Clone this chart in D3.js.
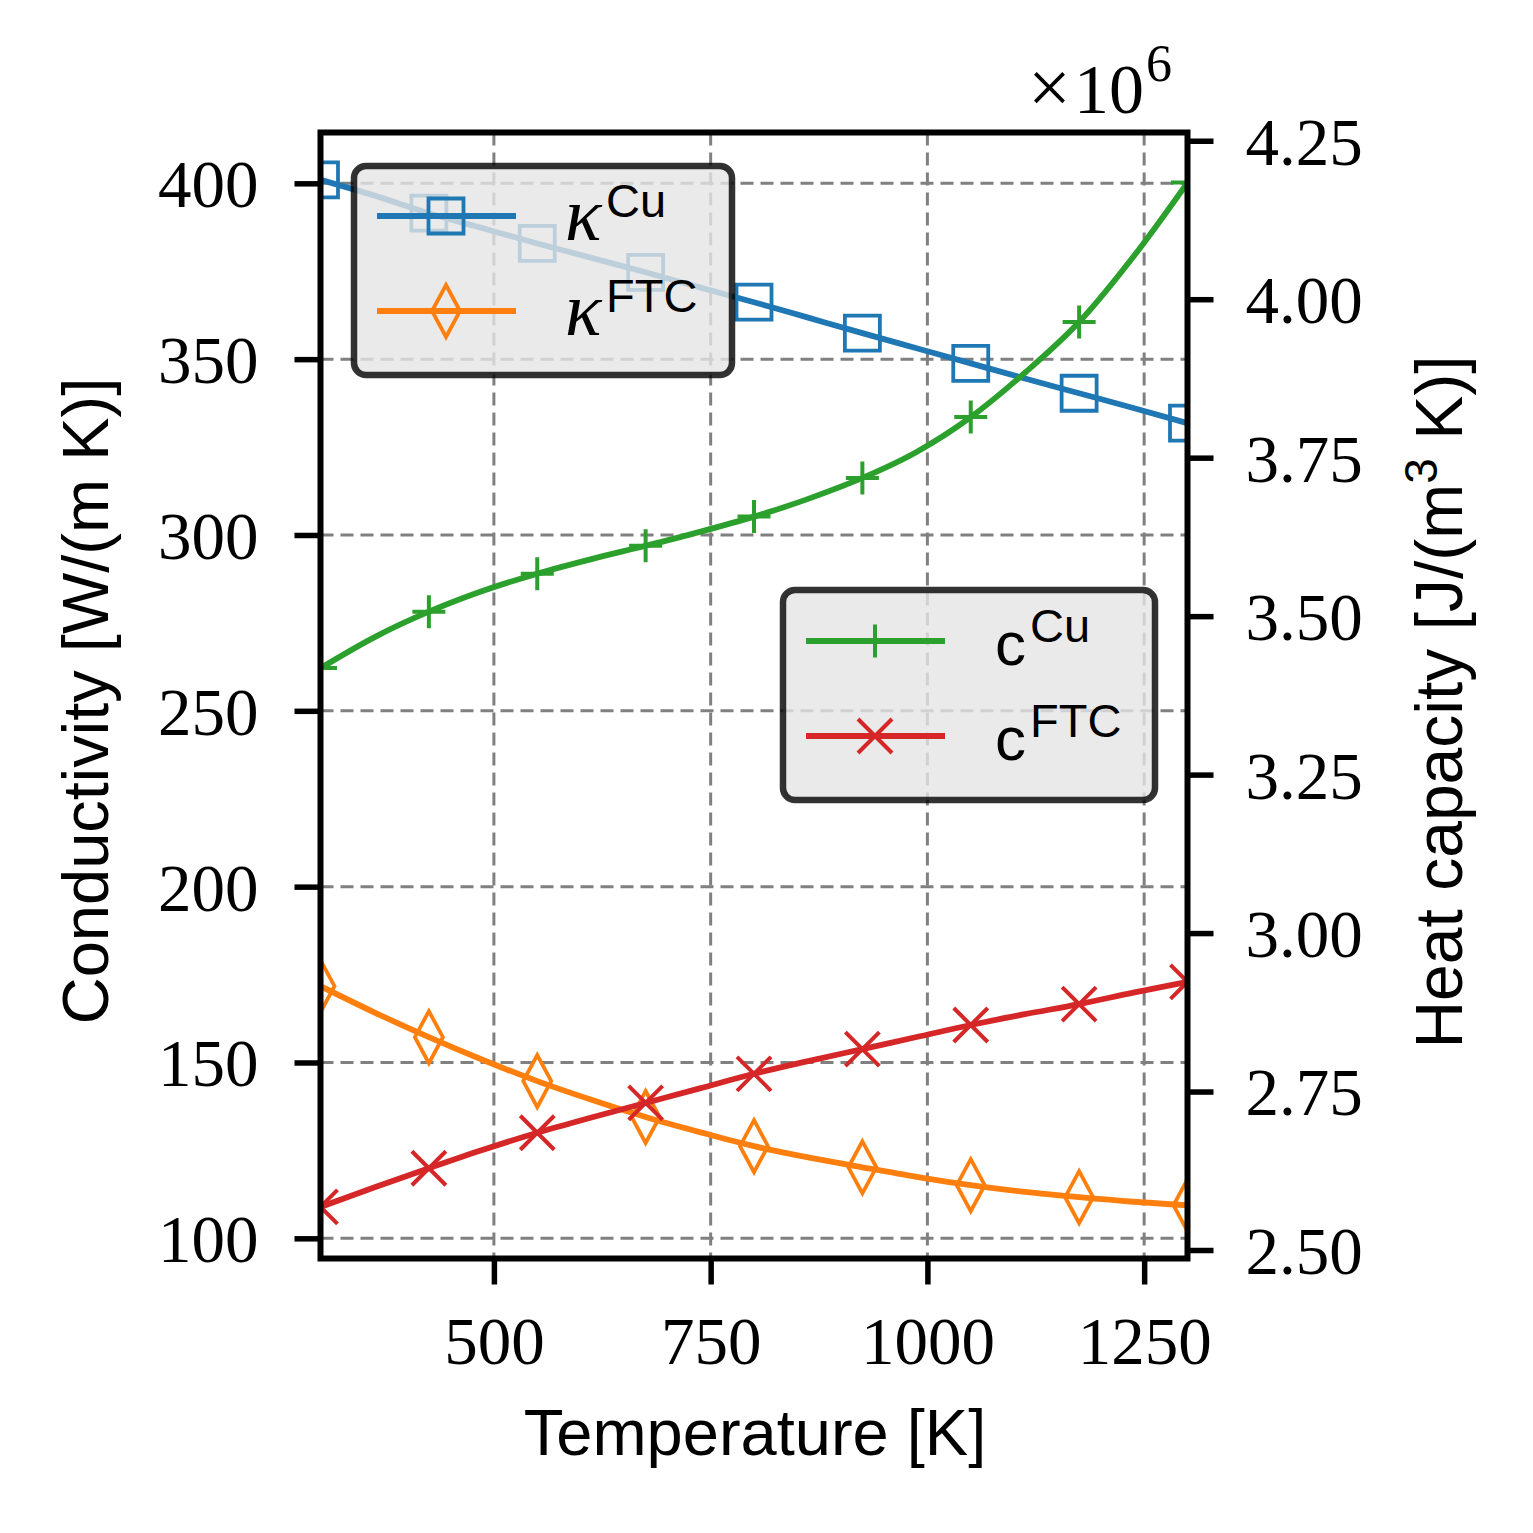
<!DOCTYPE html>
<html><head><meta charset="utf-8">
<script src="https://cdn.jsdelivr.net/npm/d3@7"></script>
<style>body{margin:0;background:#fff}</style></head>
<body><svg id="c" width="1533" height="1533"></svg>
<script>
// ---- data ----
const temperature = [300, 362.5, 425, 487.5, 550, 612.5, 675, 737.5, 800, 862.5, 925, 987.5, 1050, 1112.5, 1175, 1237.5, 1300];
const kappaCu  = [401.0, 396.5, 391.5, 387.2, 382.9, 378.8, 374.7, 370.4, 366.2, 361.8, 357.4, 353.1, 348.8, 344.5, 340.3, 336.1, 331.8];
const kappaFTC = [171.7, 164.2, 157.2, 150.7, 144.7, 139.4, 134.5, 130.2, 126.2, 123.0, 120.2, 117.5, 115.1, 113.2, 111.7, 110.4, 109.4];
const cCu  = [3.418e6, 3.467e6, 3.507e6, 3.540e6, 3.567e6, 3.590e6, 3.611e6, 3.633e6, 3.657e6, 3.685e6, 3.718e6, 3.759e6, 3.814e6, 3.884e6, 3.964e6, 4.067e6, 4.184e6];
const cFTC = [2.568e6, 2.599e6, 2.629e6, 2.658e6, 2.685e6, 2.709e6, 2.732e6, 2.755e6, 2.778e6, 2.798e6, 2.817e6, 2.836e6, 2.855e6, 2.872e6, 2.888e6, 2.906e6, 2.923e6];
const markerEvery = 2;

const xTicks = [500, 750, 1000, 1250];
const xTickLabels = ["500", "750", "1000", "1250"];
const yLeftTicks = [100, 150, 200, 250, 300, 350, 400];
const yLeftTickLabels = ["100", "150", "200", "250", "300", "350", "400"];
const yRightTicks = [2.5e6, 2.75e6, 3.0e6, 3.25e6, 3.5e6, 3.75e6, 4.0e6, 4.25e6];
const yRightTickLabels = ["2.50", "2.75", "3.00", "3.25", "3.50", "3.75", "4.00", "4.25"];

const xLabel = "Temperature [K]";
const yLeftLabel = "Conductivity [W/(m K)]";
const yRightLabelParts = ["Heat capacity [J/(m", "3", " K)]"];
const offsetParts = ["×", "10", "6"];

const leftSeriesNames = [["κ", "Cu"], ["κ", "FTC"]];
const rightSeriesNames = [["c", "Cu"], ["c", "FTC"]];
const colors = ["#1f77b4", "#ff7f0e", "#2ca02c", "#d62728"];

// ---- layout ----
const M = {l: 320.5, r: 1187.5, t: 132.5, b: 1258.5};
const svg = d3.select("#c");
const x = d3.scaleLinear().domain([300, 1300]).range([M.l, M.r]);
const yL = d3.scaleLinear().domain([94.26, 414.45]).range([M.b, M.t]);
const yR = d3.scaleLinear().domain([2.4866e6, 4.263e6]).range([M.b, M.t]);

const serif = "'Liberation Serif', 'DejaVu Serif', serif";
const sans = "'Liberation Sans', Arial, sans-serif";

svg.append("defs").append("clipPath").attr("id", "clip")
  .append("rect").attr("x", M.l).attr("y", M.t).attr("width", M.r - M.l).attr("height", M.b - M.t);

// grid
const grid = svg.append("g").attr("stroke", "#808080").attr("stroke-width", 3).attr("stroke-dasharray", "13,7");
grid.selectAll("line.v").data(xTicks).join("line")
  .attr("x1", d => x(d)).attr("x2", d => x(d)).attr("y1", M.t).attr("y2", M.b);
grid.selectAll("line.h").data(yLeftTicks).join("line")
  .attr("y1", d => yL(d)).attr("y2", d => yL(d)).attr("x1", M.l).attr("x2", M.r);

// marker shapes
const markerPaths = {
  square: "M-17.5,-17.5H17.5V17.5H-17.5Z",
  diamond: "M0,-26L14,0L0,26L-14,0Z",
  plus: "M-16.5,0H16.5M0,-16.5V16.5",
  cross: "M-17,-17L17,17M-17,17L17,-17"
};
const series = [
  {vals: kappaCu, y: yL, color: colors[0], marker: "square", mw: 3.8},
  {vals: kappaFTC, y: yL, color: colors[1], marker: "diamond", mw: 3.8},
  {vals: cCu, y: yR, color: colors[2], marker: "plus", mw: 4},
  {vals: cFTC, y: yR, color: colors[3], marker: "cross", mw: 4}
];

const plot = svg.append("g").attr("clip-path", "url(#clip)");
series.forEach(s => {
  const pts = temperature.map((t, i) => [t, s.vals[i]]);
  const line = d3.line().x(d => x(d[0])).y(d => s.y(d[1])).curve(d3.curveMonotoneX);
  plot.append("path").attr("d", line(pts)).attr("fill", "none")
    .attr("stroke", s.color).attr("stroke-width", 5.8).attr("stroke-linejoin", "round");
  plot.selectAll(null).data(pts.filter((d, i) => i % markerEvery === 0)).join("path")
    .attr("d", markerPaths[s.marker])
    .attr("transform", d => `translate(${x(d[0])},${s.y(d[1])})`)
    .attr("fill", "none").attr("stroke", s.color).attr("stroke-width", s.mw);
});

// legends
function legend(x0, y0, w, h, items, entries, lineY, textX, isKappa) {
  const g = svg.append("g");
  g.append("rect").attr("x", x0).attr("y", y0).attr("width", w).attr("height", h)
    .attr("rx", 12).attr("fill", "#e5e5e5").attr("fill-opacity", 0.8)
    .attr("stroke", "#000").attr("stroke-opacity", 0.8).attr("stroke-width", 6.5);
  entries.forEach((s, i) => {
    const ly = lineY[i];
    g.append("line").attr("x1", x0 + 23).attr("x2", x0 + 162).attr("y1", ly).attr("y2", ly)
      .attr("stroke", s.color).attr("stroke-width", 5.8);
    g.append("path").attr("d", markerPaths[s.marker])
      .attr("transform", `translate(${x0 + 92},${ly})`)
      .attr("fill", "none").attr("stroke", s.color).attr("stroke-width", s.mw);
    const t = g.append("text").attr("x", textX).attr("y", ly + 24);
    if (isKappa) {
      t.attr("font-family", serif).attr("font-style", "italic").attr("font-size", 76).text(items[i][0]);
      g.append("text").attr("x", textX + 41).attr("y", ly + 1).attr("font-family", sans)
        .attr("font-size", 47).text(items[i][1]);
    } else {
      t.attr("font-family", sans).attr("font-size", 62).text(items[i][0]);
      g.append("text").attr("x", textX + 35).attr("y", ly + 1).attr("font-family", sans)
        .attr("font-size", 47).text(items[i][1]);
    }
  });
}
legend(354, 166, 378, 209, leftSeriesNames, series.slice(0, 2), [216, 311], 565, true);
legend(783, 590, 372, 210, rightSeriesNames, series.slice(2, 4), [641, 736], 995, false);

// axes
const tickStyle = g => {
  g.select(".domain").remove();
  g.selectAll(".tick line").attr("stroke", "#000").attr("stroke-width", 5.5);
  g.selectAll(".tick text").attr("font-family", serif).attr("font-size", 67).attr("fill", "#000");
};
svg.append("g").attr("transform", `translate(${M.l},0)`)
  .call(d3.axisLeft(yL).tickValues(yLeftTicks).tickFormat((d, i) => yLeftTickLabels[i]).tickSize(26).tickPadding(36))
  .call(tickStyle).call(g => g.selectAll(".tick text").attr("dy", "0.35em"));
svg.append("g").attr("transform", `translate(${M.r},0)`)
  .call(d3.axisRight(yR).tickValues(yRightTicks).tickFormat((d, i) => yRightTickLabels[i]).tickSize(26).tickPadding(32))
  .call(tickStyle).call(g => g.selectAll(".tick text").attr("dy", "0.35em"));
svg.append("g").attr("transform", `translate(0,${M.b})`)
  .call(d3.axisBottom(x).tickValues(xTicks).tickFormat((d, i) => xTickLabels[i]).tickSize(26))
  .call(tickStyle).call(g => g.selectAll(".tick text").attr("dy", 0).attr("y", 105.5));

// spines
svg.append("rect").attr("x", M.l).attr("y", M.t).attr("width", M.r - M.l).attr("height", M.b - M.t)
  .attr("fill", "none").attr("stroke", "#000").attr("stroke-width", 6);

// offset text
const off = svg.append("text").attr("x", 1028).attr("y", 113).attr("font-family", serif).attr("font-size", 70);
off.append("tspan").attr("font-size", 76).text(offsetParts[0]);
off.append("tspan").attr("dx", 3).text(offsetParts[1]);
off.append("tspan").attr("dy", -32).attr("dx", 2).attr("font-size", 52).text(offsetParts[2]);

// axis labels
svg.append("text").attr("x", (M.l + M.r) / 2 + 1).attr("y", 1455).attr("text-anchor", "middle")
  .attr("font-family", sans).attr("font-size", 65).text(xLabel);
svg.append("text").attr("transform", "translate(108,701) rotate(-90)").attr("text-anchor", "middle")
  .attr("font-family", sans).attr("font-size", 65).text(yLeftLabel);
const rl = svg.append("text").attr("transform", "translate(1462,702) rotate(-90)").attr("text-anchor", "middle")
  .attr("font-family", sans).attr("font-size", 66);
rl.append("tspan").text(yRightLabelParts[0]);
rl.append("tspan").attr("dy", -25).attr("font-size", 46).text(yRightLabelParts[1]);
rl.append("tspan").attr("dy", 25).text(yRightLabelParts[2]);
</script></body></html>
